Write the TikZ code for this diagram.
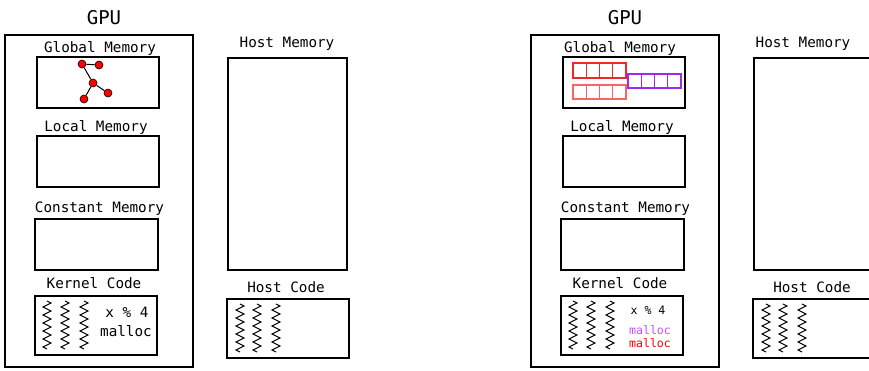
\documentclass[tikz,border=0pt]{standalone}
\usepackage{fontspec}
\setmonofont{DejaVu Sans Mono}
\usetikzlibrary{decorations.pathmorphing}
\definecolor{arrred}{RGB}{240,40,40}
\definecolor{arrpink}{RGB}{250,100,100}
\definecolor{arrpurple}{RGB}{160,40,240}
\definecolor{mallocpurple}{RGB}{200,80,255}
\tikzset{x=1pt,y=-1pt,
  gpubox/.style={draw, line width=1.4pt, inner sep=0pt},
  membox/.style={draw, line width=2.6pt, inner sep=0pt},
  lbl/.style={font=\ttfamily\fontsize{14.3}{16}\selectfont, inner sep=0pt},
  small/.style={font=\ttfamily\fontsize{11.6}{13}\selectfont, inner sep=0pt},
  title/.style={font=\ttfamily\fontsize{19}{22}\selectfont, inner sep=0pt},
  vertex/.style={circle, fill=red, draw=black, line width=0.6pt, minimum size=8pt, inner sep=0pt},
  thread/.style={decorate, decoration={zigzag, segment length=8pt, amplitude=4pt}, line width=1pt},
  cell/.style={line width=1.1pt}}

\begin{document}
\begin{tikzpicture}
\useasboundingbox (0,0) rectangle (869,370);
\clip (0,0) rectangle (869,370);

% the two panels share the same frame
\foreach \p/\dx/\tx/\gx/\hx in {1/0/104/100/287, 2/526/625/620/803}{
  \node[title] (gpulbl\p) at (\tx,18) {GPU};
  \node[gpubox, minimum width=188pt, minimum height=332pt] (gpu\p) at (99+\dx,201) {};
  \node[membox, minimum width=122pt, minimum height=51pt] (glob\p) at (98+\dx,82.5) {};
  \node[lbl] (globlbl\p) at (\gx,48.5) {Global Memory};
  \node[membox, minimum width=122pt, minimum height=51pt] (loc\p) at (98+\dx,161.5) {};
  \node[lbl] (loclbl\p) at (96+\dx,127.5) {Local Memory};
  \node[membox, minimum width=123pt, minimum height=51pt] (const\p) at (96.5+\dx,244.5) {};
  \node[lbl] (constlbl\p) at (99.5+\dx,208.5) {Constant Memory};
  \node[membox, minimum width=122pt, minimum height=59pt] (kern\p) at (96+\dx,325.5) {};
  \node[lbl] (kernlbl\p) at (94+\dx,283.5) {Kernel Code};
  \node[membox, minimum width=119pt, minimum height=212pt] (hmem\p) at (287.5+\dx,164) {};
  \node[lbl] (hmemlbl\p) at (\hx,43.5) {Host Memory};
  \node[membox, minimum width=122pt, minimum height=59pt] (hcode\p) at (288+\dx,328.5) {};
  \node[lbl] (hcodelbl\p) at (286+\dx,287) {Host Code};
  % threads
  \foreach \tx in {47,65,84}
    \draw[thread] (\tx+\dx,301) -- (\tx+\dx,349);
  \foreach \tx in {240,257,276}
    \draw[thread] (\tx+\dx,304) -- (\tx+\dx,352);
}

% left: a graph in global memory
\node[vertex] (v1) at (82,64) {};
\node[vertex] (v2) at (99,65) {};
\node[vertex] (v3) at (93,83) {};
\node[vertex] (v4) at (108,93) {};
\node[vertex] (v5) at (84,99) {};
\draw[line width=1pt] (v1) -- (v2) (v1) -- (v3) (v3) -- (v4) (v3) -- (v5);
\node[lbl] (mod1) at (127,312) {x \% 4};
\node[lbl] (alloc1) at (126,331) {malloc};

% right: arrays in global memory
\foreach \i in {0,...,3}{
  \draw[cell, arrred] (573+13.25*\i,63) rectangle ++(13.25,15);
  \draw[cell, arrpink] (573+13.25*\i,85) rectangle ++(13.25,14);
  \draw[cell, arrpurple] (628+13.25*\i,74) rectangle ++(13.25,14);
}
\node[small] (mod2) at (648,310) {x \% 4};
\node[small, text=mallocpurple] (alloc2) at (650,330) {malloc};
\node[small, text=red] (alloc3) at (650,343) {malloc};
\end{tikzpicture}
\end{document}
